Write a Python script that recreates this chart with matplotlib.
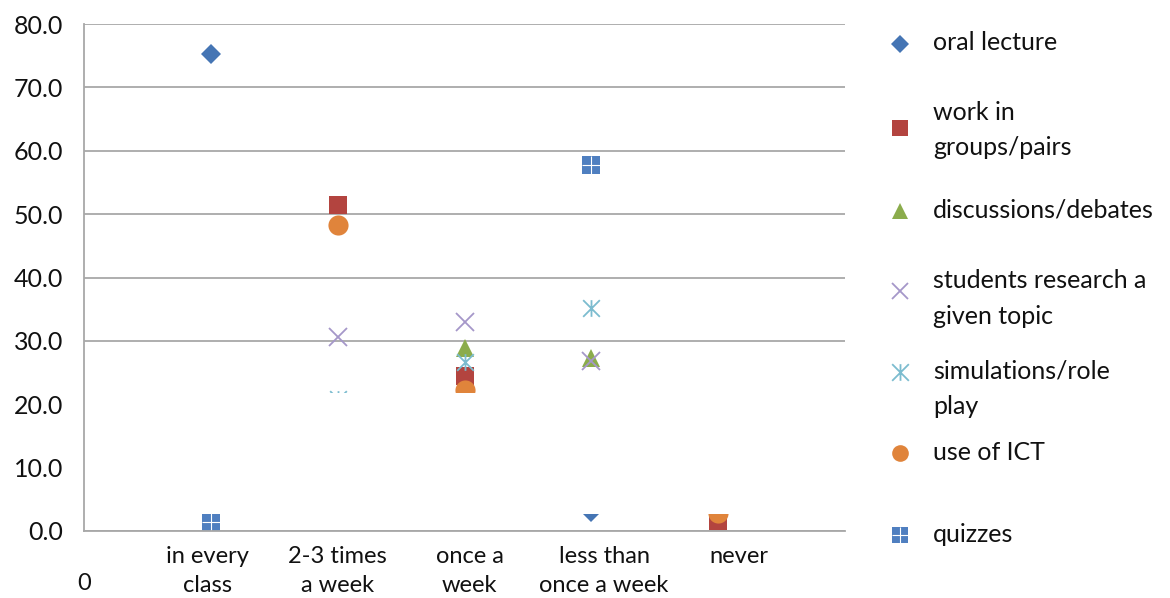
import numpy as np
import matplotlib
matplotlib.use("Agg")
import matplotlib.pyplot as plt
from matplotlib.path import Path

plt.rcParams['font.family'] = ['Lato', 'DejaVu Sans']

# ---- data -------------------------------------------------------------
categories = ["in every\nclass", "2-3 times\na week", "once a\nweek",
              "less than\nonce a week", "never"]
x_values = [1, 2, 3, 4, 5]
category_label_x = [0.97, 2.0, 3.04, 4.1, 5.16]

series_names = ["oral lecture", "work in\ngroups/pairs", "discussions/debates",
                "students research a\ngiven topic", "simulations/role\nplay",
                "use of ICT", "quizzes"]

nan = np.nan
oral_lecture = [75.3, nan, nan, 3.0, nan]
work_in_groups = [nan, 51.4, 24.4, nan, 1.5]
discussions = [nan, nan, 28.8, 27.3, nan]
students_research = [nan, 30.6, 33.0, 26.8, nan]
simulations = [nan, 20.8, 26.6, 35.2, nan]
use_of_ict = [nan, 48.3, 22.3, nan, 2.9]
quizzes = [1.4, nan, nan, 57.8, nan]

y_ticks = [0, 10, 20, 30, 40, 50, 60, 70, 80]
y_tick_labels = [f"{v:.1f}" for v in y_ticks]

# blank strip across the lower part of the plot area
strip_low, strip_high = 2.68, 21.73

# ---- styles -----------------------------------------------------------
asterisk = Path([(-1, -1), (1, 1), (-1, 1), (1, -1), (0, -1), (0, 1)],
                [Path.MOVETO, Path.LINETO] * 3)

styles = [
    dict(marker='D', ms=10, mfc='#4575b4', mec='#4575b4', mew=0),
    dict(marker='s', ms=13.5, mfc='#b3443f', mec='#b3443f', mew=0),
    dict(marker='^', ms=12.5, mfc='#8bac4c', mec='#8bac4c', mew=0),
    dict(marker='x', ms=13, mfc='none', mec='#a597c9', mew=1.3),
    dict(marker=asterisk, ms=12, mfc='none', mec='#7cbccf', mew=1.3),
    dict(marker='o', ms=14.5, mfc='#e0843b', mec='#e0843b', mew=0),
    dict(marker='s', ms=12.5, mfc='#4f7fc0', mec='#4f7fc0', mew=0),
]
all_series = [oral_lecture, work_in_groups, discussions, students_research,
              simulations, use_of_ict, quizzes]

text_color = '#111111'
grid_color = '#a8a8a8'
FS = 18
CAT_FS = 17

# ---- figure -----------------------------------------------------------
W, H = 1170, 598
fig = plt.figure(figsize=(W / 100, H / 100), dpi=100)
ax = fig.add_axes([84 / W, 1 - 531 / H, (845 - 84) / W, (531 - 24) / H])

ax.set_xlim(0, 6)
ax.set_ylim(0, 80)
ax.set_yticks(y_ticks)
ax.set_yticklabels(y_tick_labels)
ax.set_xticks([0])
ax.set_xticklabels(["0"])
ax.tick_params(axis='both', length=0, labelsize=FS, labelcolor=text_color)
ax.tick_params(axis='x', labelsize=CAT_FS, pad=30)
ax.tick_params(axis='y', pad=15)

ax.grid(axis='y', color=grid_color, linewidth=1.3, zorder=0)
ax.set_axisbelow(True)
for side in ('top', 'right'):
    ax.spines[side].set_visible(False)
for side in ('left', 'bottom'):
    ax.spines[side].set_color(grid_color)
    ax.spines[side].set_linewidth(1.3)

for vals, st in zip(all_series, styles):
    ax.plot(x_values, vals, linestyle='none', zorder=2.2, **st)
# white cross inside the quiz squares
ax.plot(x_values, quizzes, linestyle='none', marker='+', ms=12.5,
        mec='white', mew=0.8, zorder=2.3)

ax.axhspan(strip_low, strip_high, facecolor='white', edgecolor='none',
           zorder=2.4)

# category names under the axis
for xl, name in zip(category_label_x, categories):
    for i, line in enumerate(name.split('\n')):
        ax.annotate(line, xy=(xl, 0), xycoords=('data', 'axes fraction'),
                    xytext=(0, -18.7 - 20.9 * i), textcoords='offset points',
                    ha='center', va='center', fontsize=CAT_FS,
                    color=text_color)

# ---- legend panel -----------------------------------------------------
lg = fig.add_axes([0, 0, 1, 1])
lg.set_xlim(0, W)
lg.set_ylim(H, 0)
lg.axis('off')
lg.patch.set_alpha(0)

text_y = [43, 112, 210, 281, 371, 452, 535]
marker_y = [44, 128, 211, 291, 372, 453, 535]
marker_x, text_x, line_step = 900, 933, 35.5

for name, st, ty, my in zip(series_names, styles, text_y, marker_y):
    lst = dict(st)
    lst['ms'] = 9 if lst['marker'] == 'D' else 12
    lg.plot([marker_x], [my], linestyle='none', **lst)
    for i, line in enumerate(name.split('\n')):
        lg.text(text_x, ty + i * line_step, line, ha='left', va='center',
                fontsize=FS, color=text_color)
lg.plot([marker_x], [marker_y[-1]], linestyle='none', marker='+', ms=12,
        mec='white', mew=0.8)

fig.savefig('out.png', dpi=100)
